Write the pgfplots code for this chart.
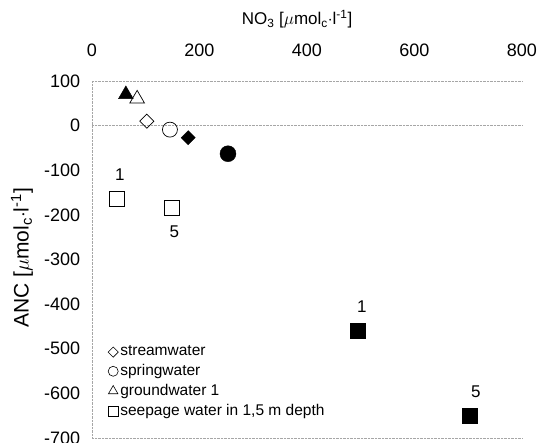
\documentclass[border=0pt]{standalone}
\usepackage{fontspec}
\setmainfont{Liberation Sans}
\usepackage{pgfplots}
\pgfplotsset{compat=1.18}

\begin{document}
\fontsize{17}{20}\selectfont
\begin{tikzpicture}
\useasboundingbox (-92pt,-5pt) rectangle (446pt,438pt);
\begin{axis}[
  at={(0pt,0pt)}, anchor=south west,
  scale only axis,
  width=430pt, height=357pt,
  xmin=0, xmax=800, ymin=-700, ymax=100,
  xtick={0,200,...,800}, ytick={-700,-600,...,100},
  xticklabel pos=upper,
  axis line style={draw=none},
  tick style={draw=none},
  x tick label style={yshift=18pt},
  y tick label style={xshift=-6pt},
  /pgf/number format/assume math mode=true,
  ticklabel style={font=\fontsize{18}{21}\selectfont},
  clip=false,
  legend style={draw=none, fill=none, at={(rel axis cs:0.03,0.27)}, anchor=north west,
    font=\fontsize{15.5}{18}\selectfont, row sep=2pt,
    /tikz/every even column/.append style={column sep=1pt}},
  legend cell align=left,
]
\draw[gray!70, densely dotted] (axis cs:0,100) -- (axis cs:800,100);
\draw[gray!70, densely dotted] (axis cs:0,0) -- (axis cs:800,0);
\draw[gray!70, densely dotted] (axis cs:0,-700) -- (axis cs:800,-700);
\draw[gray!70, densely dotted] (axis cs:0,100) -- (axis cs:0,-700);

\addlegendimage{only marks, mark=square, mark size=3.6pt, mark options={rotate=45, black, fill=white, line width=0.6pt}}
\addlegendentry{streamwater}
\addlegendimage{only marks, mark=o, mark size=5pt, mark options={black, line width=0.6pt}}
\addlegendentry{springwater}
\addlegendimage{only marks, mark=triangle, mark size=5.5pt, mark options={black, line width=0.6pt}}
\addlegendentry{groundwater 1}
\addlegendimage{only marks, mark=square, mark size=5pt, mark options={black, line width=0.6pt}}
\addlegendentry{seepage water in 1,5 m depth}

% streamwater
\addplot[only marks, mark=square, mark size=5pt, mark options={rotate=45, black, fill=white, line width=0.7pt}] coordinates {(102,10)};
\addplot[only marks, mark=square*, mark size=5pt, mark options={rotate=45, black, fill=black}] coordinates {(179,-27)};
% springwater
\addplot[only marks, mark=o, mark size=7.5pt, mark options={black, line width=0.7pt}] coordinates {(145,-9)};
\addplot[only marks, mark=*, mark size=8pt, mark options={black, fill=black}] coordinates {(253,-63)};
% groundwater
\addplot[only marks, mark=triangle*, mark size=8.5pt, mark options={black, fill=black}] coordinates {(63,70)};
\addplot[only marks, mark=triangle, mark size=8.5pt, mark options={black, fill=white, line width=0.7pt}] coordinates {(84,60)};
% seepage water
\addplot[only marks, mark=square, mark size=7.5pt, mark options={black, line width=0.6pt}] coordinates {(47,-164) (149,-184)};
\addplot[only marks, mark=square*, mark size=7.5pt, mark options={black, fill=black}] coordinates {(495,-460) (703,-650)};

\node at (axis cs:52,-110) {1};
\node at (axis cs:153,-238) {5};
\node at (axis cs:502,-406) {1};
\node at (axis cs:714,-596) {5};
\end{axis}
\node at (205pt,419pt) {NO\textsubscript{3} [$\mu$mol\textsubscript{c}$\cdot$l\textsuperscript{-1}]};
\node[rotate=90, font=\fontsize{21}{24}\selectfont] at (-70pt,180pt) {ANC [$\mu$mol\textsubscript{c}$\cdot$l\textsuperscript{-1}]};
\end{tikzpicture}
\end{document}
